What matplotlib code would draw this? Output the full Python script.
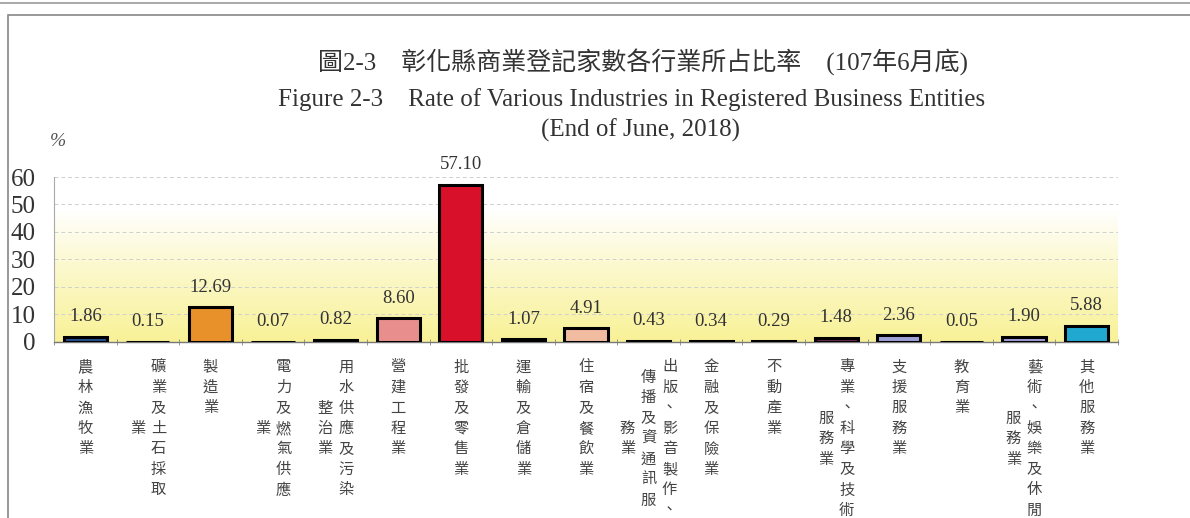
import numpy as np
import matplotlib.pyplot as plt
from matplotlib.patches import Rectangle
from matplotlib.lines import Line2D

plt.rcParams["font.family"] = ["Liberation Serif", "Noto Sans CJK TC", "DejaVu Sans"]

# industries (each label split into vertical columns, right column first)
labels = [
    ["農林漁牧業"],
    ["礦業及土石採取", "業"],
    ["製造業"],
    ["電力及燃氣供應", "業"],
    ["用水供應及污染", "整治業"],
    ["營建工程業"],
    ["批發及零售業"],
    ["運輸及倉儲業"],
    ["住宿及餐飲業"],
    ["出版、影音製作、", "傳播及資通訊服", "務業"],
    ["金融及保險業"],
    ["不動產業"],
    ["專業、科學及技術", "服務業"],
    ["支援服務業"],
    ["教育業"],
    ["藝術、娛樂及休閒", "服務業"],
    ["其他服務業"],
]
values = [1.86, 0.15, 12.69, 0.07, 0.82, 8.60, 57.10, 1.07, 4.91,
          0.43, 0.34, 0.29, 1.48, 2.36, 0.05, 1.90, 5.88]
colors = ["#24508f", "#2a2a2a", "#e8902a", "#2a2a2a", "#2a2a2a", "#e88e8c",
          "#d9102a", "#2a2a2a", "#f2bca0", "#2a2a2a", "#2a2a2a", "#2a2a2a",
          "#6a2a4a", "#a0a0d8", "#2a2a2a", "#a0a0d8", "#20a8d0"]
yticks = [0, 10, 20, 30, 40, 50, 60]

fig = plt.figure(figsize=(11.9, 5.18), dpi=100)
ax = fig.add_axes([0.0454, 0.3398, 0.894, 0.3185])

x = np.arange(len(values))
ax.set_xlim(-0.5, len(values) - 0.5)
ax.set_ylim(0, 60)

# yellow gradient background
levels = np.linspace(0, 60, 256)
alpha = np.clip((48 - levels) / 48, 0, 1) ** 0.9
img = np.zeros((256, 1, 4))
img[:, 0, 0] = 0.97
img[:, 0, 1] = 0.94
img[:, 0, 2] = 0.52
img[:, 0, 3] = alpha * 0.85
ax.imshow(img, extent=[-0.5, len(values) - 0.5, 0, 60], origin="lower",
          aspect="auto", zorder=0)

for t in yticks[1:]:
    ax.axhline(t, color="#cfcfcf", lw=0.7, ls=(0, (4, 3)), zorder=1)

ax.bar(x, values, width=0.69, color=colors, edgecolor="black", linewidth=2.2, zorder=3)

for xi, v in zip(x, values):
    ax.annotate(f"{v:.2f}", xy=(xi, v), xytext=(0, 20), textcoords="offset pixels",
                ha="center", va="center", fontsize=13.5, color="#333333")

# vertical category labels
for xi, cols in zip(x, labels):
    n = max(len(c) for c in cols)
    ncol = len(cols)
    for k, col in enumerate(cols):
        dx = ((ncol - 1) / 2 - k) * 21
        off = (n - len(col)) / 2
        for j, ch in enumerate(col):
            dy = -25 - (off + j) * 20.5
            ax.annotate(ch, xy=(xi, 0), xycoords=("data", "axes fraction"),
                        xytext=(dx, dy), textcoords="offset pixels",
                        ha="center", va="center", fontsize=11, color="#444444",
                        family=["Noto Sans CJK TC"])

ax.set_xticks([])
ax.set_xticks(np.arange(-0.5, len(values), 1), minor=True)
ax.tick_params(axis="x", which="minor", length=4, direction="inout", color="#888888")
ax.set_yticks(yticks)
ax.set_yticklabels([str(t) for t in yticks], fontsize=18, color="#333333")
ax.tick_params(axis="y", length=0, pad=13)
for s in ["top", "right"]:
    ax.spines[s].set_visible(False)
ax.spines["left"].set_color("#aaaaaa")
ax.spines["left"].set_linewidth(0.8)
ax.spines["bottom"].set_color("#777777")
ax.spines["bottom"].set_linewidth(1.0)

# titles
fig.text(0.54, 1 - 62 / 518, "圖2-3　彰化縣商業登記家數各行業所占比率　(107年6月底)",
         ha="center", va="center", fontsize=18, color="#333333",
         family=["Liberation Serif", "Noto Sans CJK TC"])
fig.text(0.531, 1 - 100 / 518,
         "Figure 2-3    Rate of Various Industries in Registered Business Entities",
         ha="center", va="center", fontsize=18, color="#333333")
fig.text(0.538, 1 - 130 / 518, "(End of June, 2018)",
         ha="center", va="center", fontsize=18, color="#333333")
fig.text(58 / 1190, 1 - 141 / 518, "%", ha="center", va="center",
         fontsize=14, style="italic", color="#555555")

# page frame
fig.add_artist(Rectangle((8 / 1190, -0.05), 1.2, 1.05 - 15 / 518,
                         transform=fig.transFigure, fill=False,
                         edgecolor="#888888", lw=1.2))
fig.add_artist(Line2D([0, 1], [1 - 3 / 518, 1 - 3 / 518],
                      transform=fig.transFigure, color="#999999", lw=1.2))

fig.savefig("out.png", dpi=100)
